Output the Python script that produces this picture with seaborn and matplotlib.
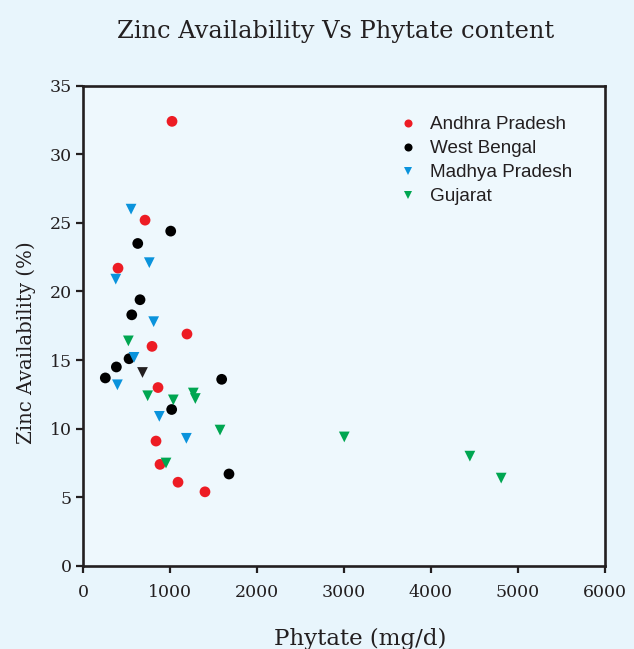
import pandas as pd
import numpy as np
import seaborn as sns
import matplotlib
matplotlib.use("Agg")
import matplotlib.pyplot as plt

# --- data ---
states = ["Andhra Pradesh", "West Bengal", "Madhya Pradesh", "Gujarat"]

ap_phytate = [1023, 713, 402, 1195, 793, 862, 839, 885, 1092, 1402]
ap_zinc = [32.4, 25.2, 21.7, 16.9, 16.0, 13.0, 9.1, 7.4, 6.1, 5.4]

wb_phytate = [1008, 629, 655, 560, 529, 383, 256, 1594, 1019, 1678]
wb_zinc = [24.4, 23.5, 19.4, 18.3, 15.1, 14.5, 13.7, 13.6, 11.4, 6.7]

mp_phytate = [552, 762, 376, 812, 586, 395, 877, 1188]
mp_zinc = [26.0, 22.1, 20.9, 17.8, 15.2, 13.2, 10.9, 9.3]

guj_phytate = [521, 743, 1038, 1268, 1291, 1575, 954, 3004, 4448, 4808]
guj_zinc = [16.4, 12.4, 12.1, 12.6, 12.2, 9.9, 7.5, 9.4, 8.0, 6.4]

# one odd dark triangle in the original, not in the legend
odd_phytate = [682]
odd_zinc = [14.1]

df = pd.concat([
    pd.DataFrame({"Phytate": ap_phytate, "Zinc": ap_zinc, "State": states[0]}),
    pd.DataFrame({"Phytate": wb_phytate, "Zinc": wb_zinc, "State": states[1]}),
    pd.DataFrame({"Phytate": mp_phytate, "Zinc": mp_zinc, "State": states[2]}),
    pd.DataFrame({"Phytate": guj_phytate, "Zinc": guj_zinc, "State": states[3]}),
], ignore_index=True)
df_odd = pd.DataFrame({"Phytate": odd_phytate, "Zinc": odd_zinc})

palette = {"Andhra Pradesh": "#ed1c24", "West Bengal": "#000000",
           "Madhya Pradesh": "#0a93dc", "Gujarat": "#00a651"}
markers = {"Andhra Pradesh": "o", "West Bengal": "o",
           "Madhya Pradesh": "v", "Gujarat": "v"}

# --- style ---
sns.set_style("white")
ink = "#231f20"
plt.rcParams["font.family"] = ["DejaVu Serif"]

fig = plt.figure(figsize=(6.34, 6.49), dpi=100, facecolor="#e8f5fc")
ax = fig.add_axes([0.131, 0.128, 0.823, 0.740])
ax.set_facecolor("#eef8fd")

sns.scatterplot(data=df, x="Phytate", y="Zinc", hue="State", style="State",
                palette=palette, markers=markers, s=60, linewidth=0,
                ax=ax, zorder=3)
sns.scatterplot(data=df_odd, x="Phytate", y="Zinc", color=ink, marker="v",
                s=60, linewidth=0, legend=False, ax=ax, zorder=3)

ax.set_xlim(0, 6000)
ax.set_ylim(0, 35)
ax.set_xticks(np.arange(0, 6001, 1000))
ax.set_yticks(np.arange(0, 36, 5))

for side in ["left", "bottom", "right", "top"]:
    ax.spines[side].set_color(ink)
    ax.spines[side].set_linewidth(1.9)
ax.tick_params(axis="both", which="major", left=True, bottom=True,
               direction="out", length=5, width=1.6, color=ink,
               labelsize=12.5, labelcolor=ink, pad=3)
ax.tick_params(axis="x", pad=8)

ax.set_xlabel("Phytate (mg/d)", fontsize=16.5, color=ink)
ax.set_ylabel("Zinc Availability (%)", fontsize=14.2, color=ink)
ax.xaxis.set_label_coords(0.531, -0.130)
ax.yaxis.set_label_coords(-0.090, 0.465)
fig.text(0.529, 0.941, "Zinc Availability Vs Phytate content", fontsize=17.4,
         color=ink, ha="center", va="baseline")

leg = ax.legend(loc="upper left", bbox_to_anchor=(0.568, 0.972), frameon=False,
                prop={"family": ["Liberation Sans", "DejaVu Sans"], "size": 13.6},
                markerscale=0.75, handletextpad=0.6, labelspacing=0.36,
                handlelength=1.2)
for t in leg.get_texts():
    t.set_color(ink)

fig.savefig("out.png", dpi=100, facecolor=fig.get_facecolor())
